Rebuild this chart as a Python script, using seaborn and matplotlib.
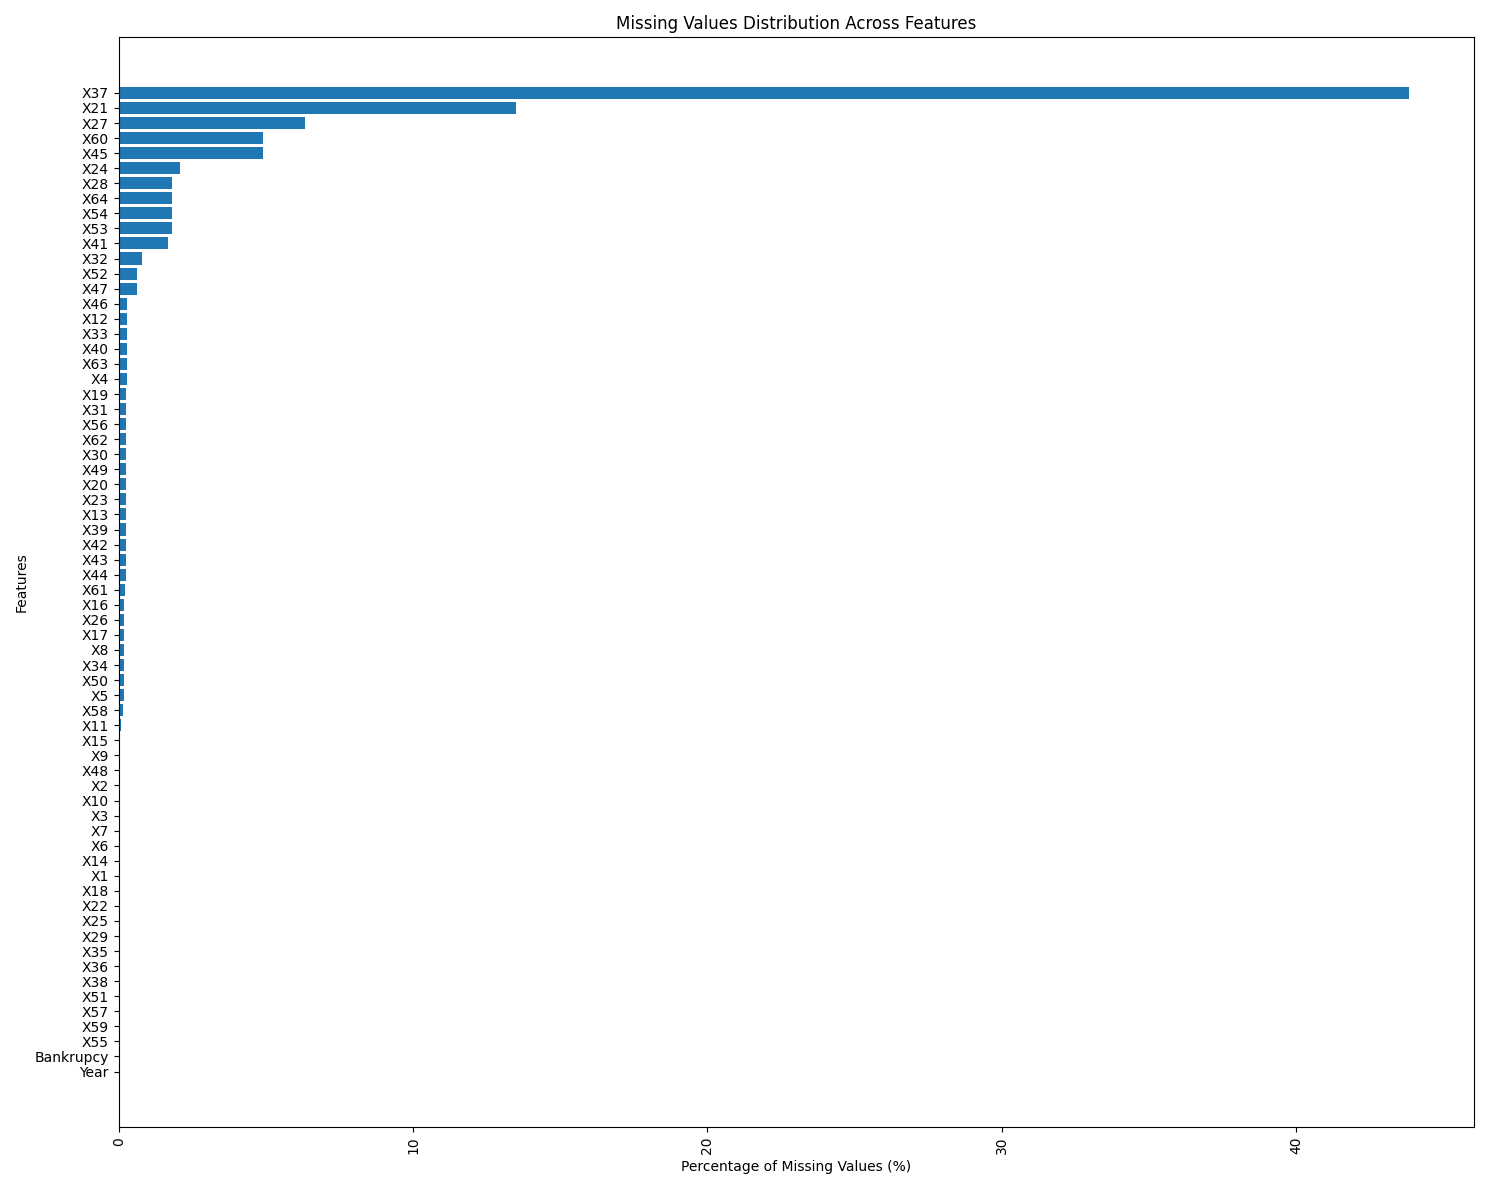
import matplotlib
matplotlib.use("Agg")
import matplotlib.pyplot as plt
import seaborn as sns
import pandas as pd

# feature names, top to bottom
features = ["X37", "X21", "X27", "X60", "X45", "X24", "X28", "X64", "X54", "X53",
            "X41", "X32", "X52", "X47", "X46", "X12", "X33", "X40", "X63", "X4",
            "X19", "X31", "X56", "X62", "X30", "X49", "X20", "X23", "X13", "X39",
            "X42", "X43", "X44", "X61", "X16", "X26", "X17", "X8", "X34", "X50",
            "X5", "X58", "X11", "X15", "X9", "X48", "X2", "X10", "X3", "X7",
            "X6", "X14", "X1", "X18", "X22", "X25", "X29", "X35", "X36", "X38",
            "X51", "X57", "X59", "X55", "Bankrupcy", "Year"]

# percentage of missing values
missing_pct = [43.85, 13.49, 6.34, 4.92, 4.92, 2.09, 1.82, 1.82, 1.82, 1.82,
               1.69, 0.81, 0.64, 0.64, 0.28, 0.28, 0.28, 0.28, 0.28, 0.28,
               0.24, 0.24, 0.24, 0.24, 0.24, 0.24, 0.24, 0.24, 0.24, 0.24,
               0.24, 0.24, 0.24, 0.20, 0.17, 0.17, 0.17, 0.17, 0.17, 0.17,
               0.17, 0.14, 0.07, 0.03, 0, 0, 0, 0, 0, 0,
               0, 0, 0, 0, 0, 0, 0, 0, 0, 0,
               0, 0, 0, 0, 0, 0]

df = pd.DataFrame({"feature": features, "pct": missing_pct})

fig, ax = plt.subplots(figsize=(14.89, 11.89), dpi=100)
sns.barplot(data=df, x="pct", y="feature", orient="h", color="#1f77b4",
            saturation=1, width=0.8, ax=ax)

# mimic matplotlib's default 5% margins
n = len(features)
m = 0.05 * (n - 0.2)
ax.set_ylim(n - 0.6 + m, -0.4 - m)
ax.set_xlim(0, None)

ax.set_title("Missing Values Distribution Across Features")
ax.set_xlabel("Percentage of Missing Values (%)")
ax.set_ylabel("Features")
ax.tick_params(axis="x", rotation=90)

plt.tight_layout()
plt.savefig("out.png")
